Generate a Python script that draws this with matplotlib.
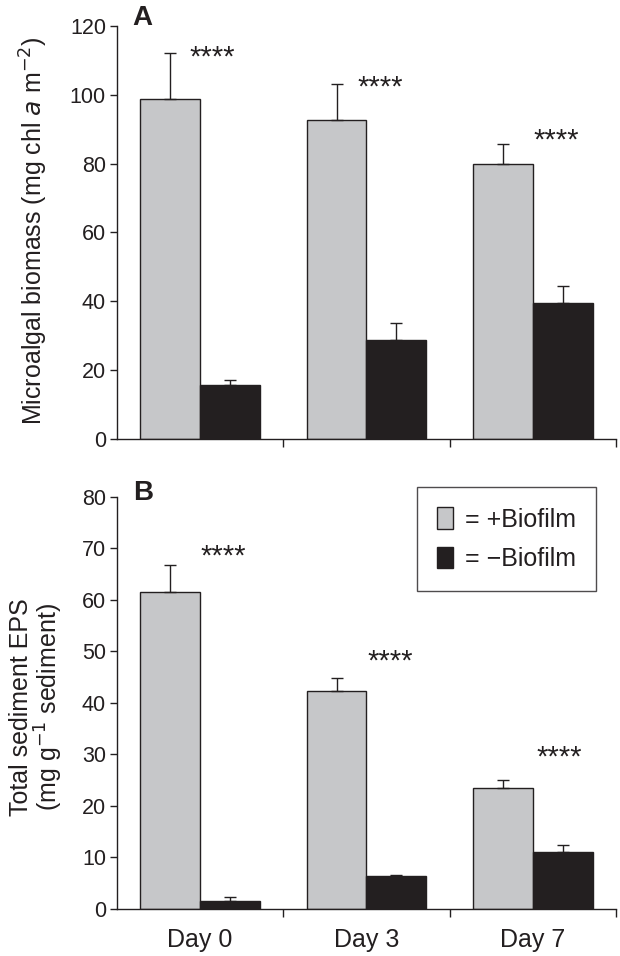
import numpy as np
import matplotlib.pyplot as plt
from matplotlib.patches import Patch

plt.rcParams['font.family'] = ['Liberation Sans', 'DejaVu Sans']

days = ['Day 0', 'Day 3', 'Day 7']

# Panel A: microalgal biomass
chl_plus = [98.7, 92.8, 79.9]
chl_plus_se = [13.5, 10.3, 5.9]
chl_minus = [15.6, 28.7, 39.5]
chl_minus_se = [1.5, 4.9, 4.9]

# Panel B: total sediment EPS
eps_plus = [61.5, 42.3, 23.5]
eps_plus_se = [5.2, 2.5, 1.4]
eps_minus = [1.5, 6.3, 11.1]
eps_minus_se = [0.8, 0.3, 1.2]

# where the **** markers go in each group
chl_star = [110.9, 102.2, 86.8]
eps_star = [68.4, 48.0, 29.3]
chl_star_dx = [0.07, 0.08, 0.14]
eps_star_dx = [0.14, 0.14, 0.16]

grey = '#c6c7c9'
dark = '#231f20'
w = 0.36
x = np.arange(len(days))

fig = plt.figure(figsize=(6.2, 9.56), dpi=100)
axA = fig.add_axes([0.1887, 0.5408, 0.8048, 0.432])
axB = fig.add_axes([0.1887, 0.0495, 0.8048, 0.4309])


def draw(ax, plus, plus_se, minus, minus_se, stars, star_dx, ymax, step):
    ekw = dict(ecolor=dark, elinewidth=1.0, capsize=4, capthick=1.0)
    ax.bar(x - w / 2, plus, w, color=grey, edgecolor=dark, linewidth=1.0,
           yerr=[np.zeros(3), plus_se], error_kw=ekw)
    ax.bar(x + w / 2, minus, w, color=dark, edgecolor=dark, linewidth=1.0,
           yerr=[np.zeros(3), minus_se], error_kw=ekw)
    for xi, s, dx in zip(x, stars, star_dx):
        ax.text(xi + dx, s, '****', ha='center', va='center', fontsize=21, color=dark)
    ax.set_xlim(-0.5, 2.5)
    ax.set_ylim(0, ymax)
    ax.set_yticks(np.arange(0, ymax + 1, step))
    ax.set_xticks([0.5, 1.5, 2.5])
    ax.set_xticklabels([])
    ax.spines['top'].set_visible(False)
    ax.spines['right'].set_visible(False)
    for sp in ['left', 'bottom']:
        ax.spines[sp].set_color(dark)
        ax.spines[sp].set_linewidth(1.0)
    ax.tick_params(axis='y', direction='out', length=5, width=1, color=dark,
                   labelsize=15.5, labelcolor=dark, pad=3)
    ax.tick_params(axis='x', direction='out', length=6, width=1, color=dark)


draw(axA, chl_plus, chl_plus_se, chl_minus, chl_minus_se, chl_star, chl_star_dx, 120, 20)
draw(axB, eps_plus, eps_plus_se, eps_minus, eps_minus_se, eps_star, eps_star_dx, 80, 10)

axA.set_ylabel('Microalgal biomass (mg chl $\\mathit{a}$ m$^{-2}$)', fontsize=18, color=dark)
axA.yaxis.set_label_coords(-0.134, 0.505)
axB.set_ylabel('Total sediment EPS\n(mg g$^{-1}$ sediment)', fontsize=18, color=dark, linespacing=1.0)
axB.yaxis.set_label_coords(-0.104, 0.49)

# category labels sit under the group centres, ticks mark the boundaries
for xi, d in zip(x, days):
    axB.text(xi, -0.047, d, transform=axB.get_xaxis_transform(), ha='center', va='top',
             fontsize=18, color=dark)

fig.text(0.214, 0.981, 'A', fontsize=20, fontweight='bold', va='center', color=dark)
fig.text(0.214, 0.484, 'B', fontsize=20, fontweight='bold', va='center', color=dark)

handles = [Patch(facecolor=grey, edgecolor=dark, linewidth=1.0),
           Patch(facecolor=dark, edgecolor=dark, linewidth=1.0)]
leg = axB.legend(handles, ['= +Biofilm', '= \u2212Biofilm'], loc='upper right',
                 bbox_to_anchor=(0.96, 1.0235), borderaxespad=0, fontsize=18,
                 frameon=True, fancybox=False, edgecolor=dark,
                 handlelength=0.64, handleheight=0.96, handletextpad=0.5,
                 borderpad=0.8, labelspacing=0.6)
leg.get_frame().set_linewidth(1.0)
for t in leg.get_texts():
    t.set_color(dark)

fig.savefig('out.png', dpi=100)
